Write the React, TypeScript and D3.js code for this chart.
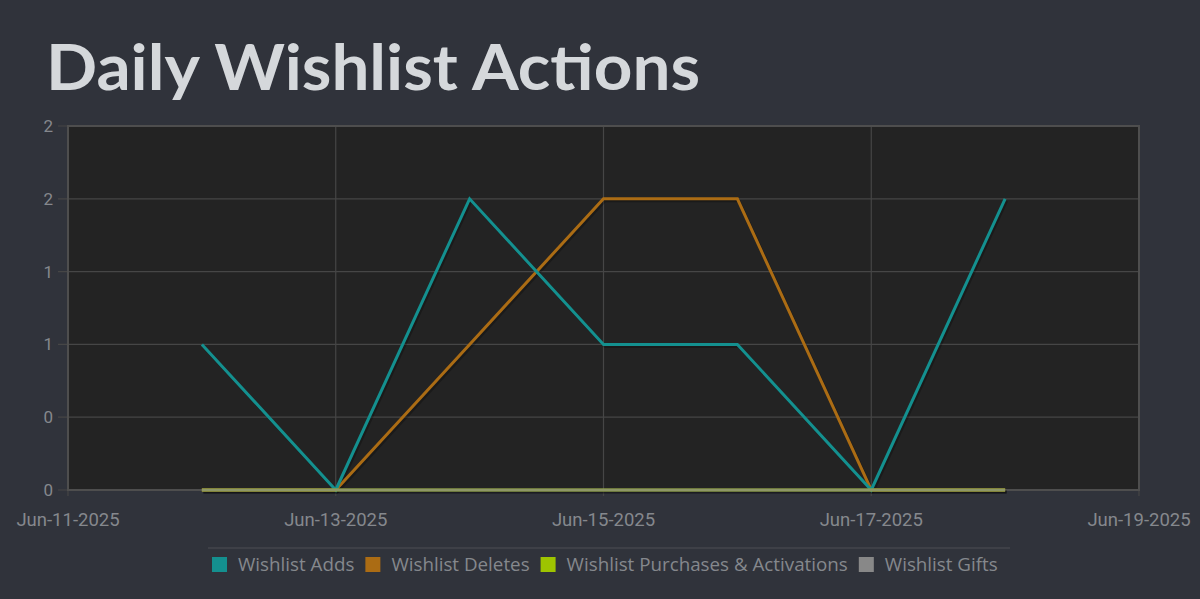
import React, { useEffect, useRef } from "react";
import * as d3 from "d3";

const dates = ["2025-06-12", "2025-06-13", "2025-06-14", "2025-06-15", "2025-06-16", "2025-06-17", "2025-06-18"];
const wishlistAdds = [1, 0, 2, 1, 1, 0, 2];
const wishlistDeletes = [0, 0, 1, 2, 2, 0, 0];
const wishlistPurchases = [0, 0, 0, 0, 0, 0, 0];
const wishlistGifts = [0, 0, 0, 0, 0, 0, 0];
const seriesNames = ["Wishlist Adds", "Wishlist Deletes", "Wishlist Purchases & Activations", "Wishlist Gifts"];
const seriesColors = ["#14908f", "#ab6c14", "#9ec400", "#888888"];
const xTickDates = ["2025-06-11", "2025-06-13", "2025-06-15", "2025-06-17", "2025-06-19"];
const yTicks = [0, 0.5, 1, 1.5, 2, 2.5];
const title = "Daily Wishlist Actions";

const W = 1200;
const H = 599;

export default function App() {
  const ref = useRef<SVGSVGElement | null>(null);

  useEffect(() => {
    const svg = d3.select(ref.current);
    svg.selectAll("*").remove();
    const parse = d3.timeParse("%Y-%m-%d");
    const fmt = d3.timeFormat("%b-%d-%Y");

    const left = 68, right = 1139, top = 126, bottom = 490;
    const x = d3.scaleTime().domain([parse(xTickDates[0])!, parse(xTickDates[xTickDates.length - 1])!]).range([left, right]);
    const y = d3.scaleLinear().domain([0, 2.5]).range([bottom, top]);

    svg.append("rect").attr("width", W).attr("height", H).attr("fill", "#30333b");

    svg.append("text")
      .attr("x", 46).attr("y", 90)
      .attr("font-family", "Lato, 'Open Sans', sans-serif")
      .attr("font-weight", 700)
      .attr("font-size", 64)
      .attr("fill", "#d5d8db")
      .attr("textLength", 654)
      .attr("lengthAdjust", "spacingAndGlyphs")
      .text(title);

    svg.append("rect")
      .attr("x", left).attr("y", top)
      .attr("width", right - left).attr("height", bottom - top)
      .attr("fill", "#232323");

    const g = svg.append("g");
    g.selectAll(".hg").data(yTicks).join("line")
      .attr("x1", left - 10).attr("x2", right)
      .attr("y1", (d) => y(d)).attr("y2", (d) => y(d))
      .attr("stroke", "#464646").attr("stroke-width", 1.2);
    g.selectAll(".vg").data(xTickDates).join("line")
      .attr("x1", (d) => x(parse(d)!)).attr("x2", (d) => x(parse(d)!))
      .attr("y1", top).attr("y2", bottom + 6)
      .attr("stroke", "#464646").attr("stroke-width", 1.2);

    svg.append("rect")
      .attr("x", left).attr("y", top)
      .attr("width", right - left).attr("height", bottom - top)
      .attr("fill", "none").attr("stroke", "#4e4e4e").attr("stroke-width", 2);

    svg.selectAll(".yl").data(yTicks).join("text")
      .attr("x", 53).attr("y", (d) => y(d) + 6)
      .attr("text-anchor", "end")
      .attr("font-family", "Roboto, sans-serif")
      .attr("font-size", 17)
      .attr("fill", "#85888d")
      .text((d) => String(Math.floor(d)));

    svg.selectAll(".xl").data(xTickDates).join("text")
      .attr("x", (d) => x(parse(d)!)).attr("y", 526)
      .attr("text-anchor", "middle")
      .attr("font-family", "Roboto, sans-serif")
      .attr("font-size", 18.5)
      .attr("fill", "#85888d")
      .text((d) => fmt(parse(d)!));

    const allSeries = [wishlistAdds, wishlistDeletes, wishlistPurchases, wishlistGifts];
    const line = d3.line<number>()
      .x((_, i) => x(parse(dates[i])!))
      .y((d) => y(d));

    allSeries.forEach((s) => {
      svg.append("path").attr("d", line(s)!)
        .attr("fill", "none").attr("stroke", "#000").attr("stroke-opacity", 0.25)
        .attr("stroke-width", 3).attr("transform", "translate(1.5,2)")
        .attr("stroke-linejoin", "round");
    });
    const order = [1, 0, 2, 3];
    order.forEach((k) => {
      svg.append("path").attr("d", line(allSeries[k])!)
        .attr("fill", "none").attr("stroke", seriesColors[k])
        .attr("stroke-width", 3)
        .attr("stroke-opacity", k === 3 ? 0.75 : 1)
        .attr("stroke-linejoin", "miter");
    });

    svg.append("line").attr("x1", 208).attr("x2", 1010).attr("y1", 548).attr("y2", 548)
      .attr("stroke", "#43464d").attr("stroke-width", 1.5);
    const lg = svg.append("g");
    let cx = 212;
    seriesNames.forEach((name, i) => {
      lg.append("rect").attr("x", cx).attr("y", 557).attr("width", 15).attr("height", 15).attr("fill", seriesColors[i]);
      const t = lg.append("text").attr("x", cx + 26).attr("y", 571)
        .attr("font-family", "'Open Sans', sans-serif")
        .attr("font-size", 18.8)
        .attr("fill", "#85888d")
        .text(name);
      const len = (t.node() as SVGTextElement).getComputedTextLength();
      cx = cx + 26 + len + 11;
    });
  }, []);

  return (
    <div style={{ position: "fixed", left: 0, top: 0, width: W, height: H, background: "#30333b" }}>
      <svg ref={ref} width={W} height={H} style={{ display: "block" }} />
    </div>
  );
}
